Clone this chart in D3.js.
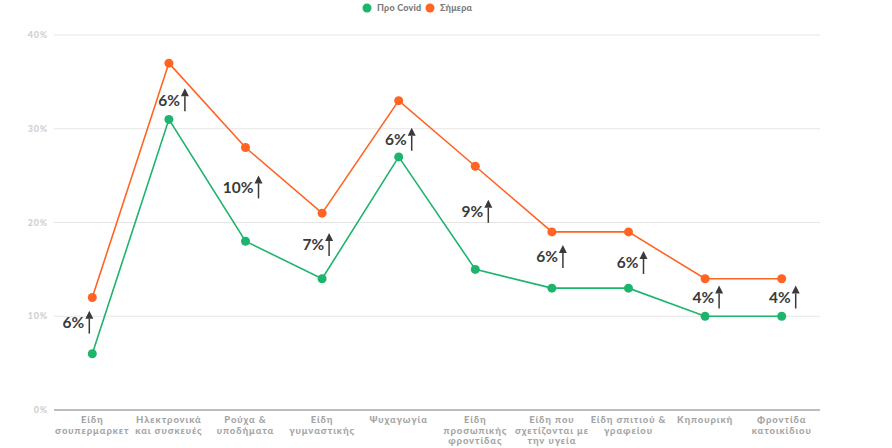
<!DOCTYPE html>
<html><head><meta charset="utf-8">
<script src="https://cdn.jsdelivr.net/npm/d3@7"></script>
<style>html,body{margin:0;padding:0;background:#fff;}svg{display:block;}</style>
</head><body>
<svg id="c" width="892" height="448"></svg>
<script>
const categories = [
  ["Είδη","σουπερμαρκετ"],
  ["Ηλεκτρονικά","και συσκευές"],
  ["Ρούχα &","υποδήματα"],
  ["Είδη","γυμναστικής"],
  ["Ψυχαγωγία"],
  ["Είδη","προσωπικής","φροντίδας"],
  ["Είδη που","σχετίζονται με","την υγεία"],
  ["Είδη σπιτιού &","γραφείου"],
  ["Κηπουρική"],
  ["Φροντίδα","κατοικίδιου"]
];
const preCovid = [6, 31, 18, 14, 27, 15, 13, 13, 10, 10];
const today = [12, 37, 28, 21, 33, 26, 19, 19, 14, 14];
const diffLabels = ["6%","6%","10%","7%","6%","9%","6%","6%","4%","4%"];
const yTicks = [0, 10, 20, 30, 40];
const seriesNames = ["Προ Covid", "Σήμερα"];
// annotation layout offsets (px) relative to category center / midpoint
const annDx = [-3, 16, 13, 7, 13, 13, 11, 15, 14, 14];
const annDy = [-3, 9, -7, -1, 11, -6, -3, 3, 0, 0];

const colors = ["#1db46c", "#ff6423"];
const smallFont = "Lato, 'Open Sans', sans-serif";
const svg = d3.select("#c");
const m = {l: 54, r: 72, t: 35, b: 38};
const W = 892, H = 448;
const x = d3.scaleBand().domain(d3.range(categories.length)).range([m.l, W - m.r]);
const y = d3.scaleLinear().domain([0, 40]).range([H - m.b, m.t]);
const cx = i => x(i) + x.bandwidth() / 2;

// gridlines
svg.append("g").selectAll("line").data(yTicks.filter(d => d > 0)).join("line")
  .attr("x1", m.l).attr("x2", W - m.r)
  .attr("y1", d => y(d)).attr("y2", d => y(d))
  .attr("stroke", "#e6e6e6").attr("stroke-width", 1);
svg.append("line").attr("x1", m.l).attr("x2", W - m.r)
  .attr("y1", y(0)).attr("y2", y(0)).attr("stroke", "#bdbdbd").attr("stroke-width", 2);

// y labels
svg.append("g").selectAll("text").data(yTicks).join("text")
  .attr("x", 48).attr("y", d => y(d)).attr("dy", "0.35em")
  .attr("text-anchor", "end")
  .attr("font-family", smallFont).attr("font-weight", 900)
  .attr("font-size", 9).attr("letter-spacing", 0.8).attr("fill", "#d0d0d0")
  .text(d => d + "%");

// x labels
const xl = svg.append("g").selectAll("text").data(categories).join("text")
  .attr("x", (d, i) => cx(i)).attr("y", 423)
  .attr("text-anchor", "middle")
  .attr("font-family", smallFont).attr("font-weight", 900)
  .attr("font-size", 9.5).attr("letter-spacing", 0.9).attr("fill", "#a5a5a5");
xl.each(function(d) {
  d3.select(this).selectAll("tspan").data(d).join("tspan")
    .attr("x", d3.select(this).attr("x"))
    .attr("dy", (t, j) => j === 0 ? 0 : 10.5)
    .text(t => t);
});

// lines
const line = d3.line().x((d, i) => cx(i)).y(d => y(d));
[preCovid, today].forEach((s, k) => {
  svg.append("path").datum(s).attr("d", line)
    .attr("fill", "none").attr("stroke", colors[k]).attr("stroke-width", 1.6);
  svg.append("g").selectAll("circle").data(s).join("circle")
    .attr("cx", (d, i) => cx(i)).attr("cy", d => y(d)).attr("r", 4.5)
    .attr("fill", colors[k]);
});

// annotations
const ann = svg.append("g");
diffLabels.forEach((lab, i) => {
  const ax = cx(i) + annDx[i];
  const ay = y((preCovid[i] + today[i]) / 2) + annDy[i];
  ann.append("text").attr("x", ax - 5).attr("y", ay).attr("dy", "0.35em")
    .attr("text-anchor", "end")
    .attr("font-family", "'Century Gothic', 'URW Gothic', Lato, sans-serif")
    .attr("font-weight", 700).attr("font-size", 15.5).attr("fill", "#3a3a3a")
    .text(lab);
  ann.append("line").attr("x1", ax).attr("x2", ax).attr("y1", ay + 11).attr("y2", ay - 4)
    .attr("stroke", "#3a3a3a").attr("stroke-width", 1.5);
  ann.append("path")
    .attr("d", `M${ax - 4},${ay - 4} L${ax},${ay - 12} L${ax + 4},${ay - 4} Z`)
    .attr("fill", "#3a3a3a");
});

// legend
const lg = svg.append("g");
const legX = [367, 430];
seriesNames.forEach((n, k) => {
  lg.append("circle").attr("cx", legX[k]).attr("cy", 8).attr("r", 4.5).attr("fill", colors[k]);
  lg.append("text").attr("x", legX[k] + 10).attr("y", 8).attr("dy", "0.35em")
    .attr("font-family", smallFont).attr("font-weight", 900)
    .attr("font-size", 9).attr("letter-spacing", 0.2).attr("fill", "#7a7a7a").text(n);
});
</script>
</body></html>
